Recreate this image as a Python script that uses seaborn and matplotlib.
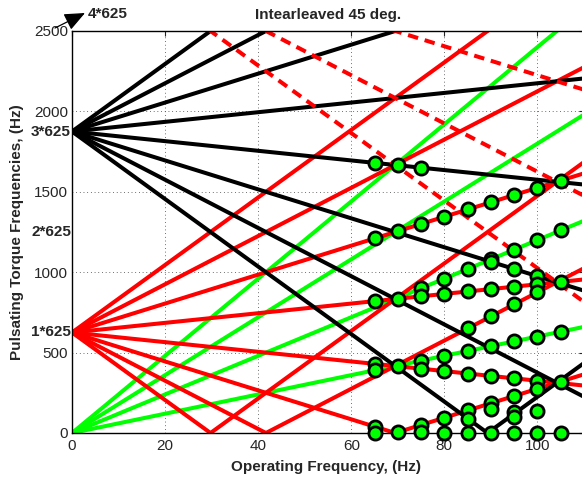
import numpy as np
import pandas as pd
import matplotlib
matplotlib.use("Agg")
import matplotlib.pyplot as plt
import seaborn as sns

# Operating frequency range shown (Hz)
f_min, f_max = 0, 110
base = 625  # switching group frequency, Hz

# Harmonic orders of the line families (slope, Hz per Hz of operating freq)
green_orders = [6, 12, 18, 24]      # n*f
red_orders = [3, 9, 15, 21]         # |1*625 +/- n*f|
black_orders = [3, 9, 15, 21]       # |3*625 +/- n*f|
dashed_orders = [9, 15, 21]         # 5*625 - n*f (folded about 4*625)

mark_f = [65] * 7 + [70] * 5 + [75] * 8 + [80] * 7 + [85] * 9 + [90] * 10 \
    + [95] * 11 + [100] * 10 + [105] * 6
mark_y = [1680, 1210, 820, 430, 390, 40, 0,
          1665, 1255, 835, 415, 5,
          1650, 1300, 900, 850, 450, 400, 50, 5,
          1345, 960, 865, 480, 385, 95, 0,
          1390, 1020, 880, 650, 510, 370, 145, 90, 0,
          1435, 1080, 1065, 895, 725, 540, 355, 185, 150, 0,
          1480, 1140, 1020, 910, 800, 570, 340, 230, 130, 100, 0,
          1525, 1200, 975, 925, 875, 600, 325, 275, 135, 0,
          1570, 1260, 940, 630, 320, 0]

yticks = [0, 500, 1000, 1500, 2000, 2500]
xticks = [0, 20, 40, 60, 80, 100]


def line_rows(family, offset, slope, name):
    xs = [f_min, f_max]
    if slope < 0 and 0 < offset / -slope < f_max:
        xs.insert(1, offset / -slope)
    return [dict(f=x, y=abs(offset + slope * x), line=name, family=family) for x in xs]


rows = []
for n in green_orders:
    rows += line_rows("green", 0, n, f"g{n}")
for n in red_orders:
    rows += line_rows("red", base, n, f"r+{n}")
    rows += line_rows("red", base, -n, f"r-{n}")
for n in black_orders:
    rows += line_rows("black", 3 * base, n, f"k+{n}")
    rows += line_rows("black", 3 * base, -n, f"k-{n}")
for n in dashed_orders:
    rows += line_rows("dashed", 5 * base, -n, f"d{n}")
df = pd.DataFrame(rows)

sns.set_style("white")
plt.rcParams["font.family"] = ["Liberation Sans", "DejaVu Sans"]

W, H = 582, 479
fig = plt.figure(figsize=(W / 100, H / 100), dpi=100)
ax = fig.add_axes([72 / W, (H - 433) / H, 512 / W, 402 / H])

styles = {
    "green": dict(color="#00ff00", linestyle="-"),
    "red": dict(color="#ff0000", linestyle="-"),
    "black": dict(color="black", linestyle="-"),
    "dashed": dict(color="#ff0000", linestyle=(0, (2.6, 1.7))),
}
for fam in ["green", "red", "black", "dashed"]:
    sns.lineplot(data=df[df["family"] == fam], x="f", y="y", units="line",
                 estimator=None, sort=False, linewidth=2.9, legend=False,
                 ax=ax, **styles[fam])

sns.scatterplot(x=mark_f, y=mark_y, s=90, color="#00ff00", edgecolor="black",
                linewidth=2, zorder=5, clip_on=False, ax=ax)

ax.set_xlim(f_min, f_max)
ax.set_ylim(0, 2500)
ax.set_xticks(xticks)
ax.set_yticks(yticks)
ax.tick_params(direction="in", length=3.5, labelsize=11, top=True, right=True)
ax.tick_params(axis="y", pad=3)
ax.tick_params(axis="x", pad=4)
ax.grid(True, linestyle=(0, (0.8, 3)), color="0.3", linewidth=0.7)
ax.set_axisbelow(True)
for s in ax.spines.values():
    s.set_linewidth(1.0)
    s.set_color("black")

ax.set_title("Intearleaved 45 deg.", fontsize=11, fontweight="bold", pad=9)
ax.set_xlabel("Operating Frequency, (Hz)", fontsize=11, fontweight="bold")
ax.set_ylabel("Pulsating Torque Frequencies, (Hz)", fontsize=11, fontweight="bold")
ax.xaxis.set_label_coords(0.496, -0.068)
ax.yaxis.set_label_coords(-0.094, 0.5)

# group frequency markers on the y axis
ytr = ax.get_yaxis_transform()
for k in [1, 2, 3]:
    ax.text(-0.002, k * base, f"{k}*625", transform=ytr, ha="right", va="center",
            fontsize=11, fontweight="bold", clip_on=False)

ax.annotate("", xy=(85, H - 13), xytext=(55, H - 28), xycoords="figure pixels",
            arrowprops=dict(arrowstyle="-|>,head_length=0.7,head_width=0.3",
                            color="black", lw=0.9, mutation_scale=18,
                            shrinkA=0, shrinkB=0))
fig.text(88 / W, 1 - 14 / H, "4*625", ha="left", va="center",
         fontsize=11, fontweight="bold")

fig.savefig("out.png", dpi=100)
